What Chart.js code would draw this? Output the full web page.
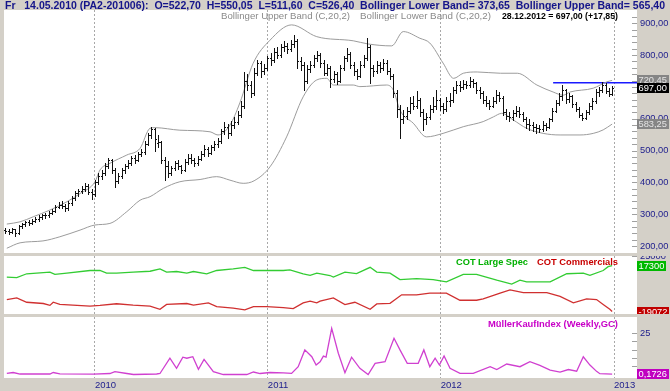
<!DOCTYPE html>
<html>
<head>
<meta charset="utf-8">
<script src="https://cdn.jsdelivr.net/npm/chart.js@4.4.0/dist/chart.umd.min.js"></script>
<style>
  html, body { margin: 0; padding: 0; }
  body { width: 670px; height: 391px; background: #d4d0c8; position: relative; overflow: hidden; }
  canvas { position: absolute; left: 0; }
  .txt { position: absolute; white-space: pre; transform-origin: left top; line-height: 1; z-index: 2; font-family: Arial, 'Liberation Sans', sans-serif; }
</style>
</head>
<body>
<canvas id="priceChart" width="670" height="243" style="top:10px"></canvas>
<canvas id="cotChart" width="670" height="58" style="top:256px"></canvas>
<canvas id="kaufChart" width="670" height="74" style="top:317px"></canvas>
<script>
// Palladium weekly bars (PA), Friday closes from 26.06.2009 to 28.12.2012
const opens = [
  250, 248, 244, 252, 240, 262, 268, 275, 272, 280,
  286, 290, 298, 296, 305, 310, 322, 330, 326, 318,
  334, 350, 366, 372, 380, 390, 370, 362, 400, 420,
  430, 452, 470, 440, 405, 420, 438, 450, 462, 478,
  470, 488, 495, 522, 548, 568, 522.7, 526, 470, 450,
  430, 445, 460, 450, 440, 465, 478, 470, 462, 475,
  490, 505, 492, 510, 520, 530, 560, 575, 555, 580,
  590, 612, 640, 720, 705, 680, 745, 775, 750, 760,
  790, 785, 810, 800, 825, 830, 820, 835, 845, 780,
  770, 720, 755, 770, 790, 800, 775, 745, 760, 725,
  740, 720, 760, 790, 805, 770, 750, 735, 770, 790,
  825, 760, 750, 770, 760, 775, 750, 735, 680, 630,
  600, 610, 625, 650, 640, 660, 620, 600, 605, 630,
  640, 660, 640, 630, 655, 660, 690, 705, 700, 710,
  705, 720, 712, 690, 680, 660, 650, 640, 655, 675,
  665, 620, 610, 605, 618, 625, 615, 600, 585, 580,
  575, 570, 568, 580, 575, 598, 625, 650, 672, 690,
  662, 670, 645, 632, 612, 602, 620, 640, 655, 684,
  690, 705, 688, 679.15
];
const highs = [
  256, 252, 258, 254, 266, 272, 280, 282, 286, 292,
  296, 302, 304, 310, 316, 328, 338, 340, 332, 340,
  356, 372, 380, 390, 398, 394, 380, 406, 428, 440,
  460, 476, 474, 446, 428, 445, 458, 470, 484, 486,
  494, 504, 530, 556, 574, 570, 550.05, 530, 480, 466,
  452, 468, 470, 456, 472, 490, 488, 478, 484, 500,
  516, 512, 518, 530, 540, 568, 590, 582, 592, 604,
  625, 655, 748, 740, 718, 760, 785, 782, 772, 798,
  806, 822, 825, 836, 845, 838, 848, 863, 850, 795,
  778, 768, 782, 800, 812, 806, 784, 772, 766, 750,
  748, 768, 798, 822, 810, 778, 756, 780, 800, 853,
  832, 768, 782, 778, 788, 785, 758, 740, 690, 642,
  628, 638, 668, 672, 686, 664, 630, 618, 642, 668,
  690, 666, 648, 668, 680, 700, 720, 718, 722, 718,
  731, 726, 716, 700, 688, 672, 658, 668, 690, 684,
  670, 632, 622, 628, 640, 636, 622, 606, 598, 590,
  585, 580, 592, 588, 602, 635, 660, 680, 706, 694,
  680, 674, 652, 638, 618, 628, 648, 666, 692, 700,
  716, 712, 696, 702
];
const lows = [
  240, 238, 242, 232, 238, 258, 264, 266, 270, 276,
  280, 286, 288, 292, 300, 306, 318, 318, 310, 314,
  330, 346, 356, 366, 372, 362, 348, 358, 396, 412,
  424, 446, 430, 385, 398, 414, 430, 444, 456, 462,
  466, 482, 490, 516, 540, 500, 511.6, 462, 408, 418,
  424, 438, 442, 428, 436, 458, 462, 450, 456, 470,
  484, 484, 488, 502, 512, 524, 552, 540, 550, 570,
  585, 605, 635, 690, 668, 676, 738, 730, 740, 754,
  770, 778, 790, 795, 812, 806, 814, 826, 760, 752,
  690, 712, 748, 762, 780, 764, 736, 738, 700, 716,
  708, 716, 752, 782, 760, 738, 726, 730, 764, 784,
  712, 735, 745, 748, 754, 740, 725, 668, 604, 540,
  588, 600, 618, 630, 634, 610, 565, 584, 598, 622,
  632, 626, 618, 624, 640, 652, 682, 688, 692, 696,
  700, 700, 682, 666, 650, 640, 630, 636, 648, 656,
  612, 598, 592, 596, 610, 604, 592, 570, 566, 562,
  555, 558, 562, 566, 570, 594, 620, 644, 660, 650,
  652, 636, 624, 604, 596, 598, 614, 632, 650, 670,
  684, 680, 672, 675
];
const closes = [
  248, 244, 252, 240, 262, 268, 275, 272, 280, 286,
  290, 298, 296, 305, 310, 322, 330, 326, 318, 334,
  350, 366, 372, 380, 390, 370, 362, 400, 420, 430,
  452, 470, 440, 405, 420, 438, 450, 462, 478, 470,
  488, 495, 522, 548, 568, 535, 526.4, 470, 450, 430,
  445, 460, 450, 440, 465, 478, 470, 462, 475, 490,
  505, 492, 510, 520, 530, 560, 575, 555, 580, 590,
  612, 640, 720, 705, 680, 745, 775, 750, 760, 790,
  785, 810, 800, 825, 830, 820, 835, 845, 780, 770,
  720, 755, 770, 790, 800, 775, 745, 760, 725, 740,
  720, 760, 790, 805, 770, 750, 735, 770, 790, 825,
  760, 750, 770, 760, 775, 750, 735, 680, 630, 600,
  610, 625, 650, 640, 660, 620, 600, 605, 630, 640,
  660, 640, 630, 655, 660, 690, 705, 700, 710, 705,
  720, 712, 690, 680, 660, 650, 640, 655, 675, 665,
  620, 610, 605, 618, 625, 615, 600, 585, 580, 575,
  570, 568, 580, 575, 598, 625, 650, 672, 690, 662,
  670, 645, 632, 612, 602, 620, 640, 655, 684, 690,
  705, 688, 679.15, 697
];

const upperWeeks = [0.4, 4.4, 8.4, 13.4, 18.5, 22.5, 27, 28.5, 31.5, 36.6, 40.6, 43.6, 45.1, 52.6, 61.7, 64.1, 67.7, 70.7, 74.7, 79.8,
  86.3, 93.9, 104.9, 109.4, 116.5, 120, 125, 128, 132, 135.2, 138.1, 142.3, 149.3, 154.4, 160.3, 165.2, 168.2, 170.3, 177.3, 181.4, 183];
const upperBand = [269, 276, 292, 313, 339, 365, 402, 439, 460, 486, 507, 570, 572, 564, 559, 549, 580, 650, 774, 847,
  895, 858, 845, 835, 829, 874, 853, 838, 775, 727, 743, 747, 743, 743, 706, 684, 674, 684, 696, 716, 720.45];
const lowerWeeks = [0.4, 4.4, 11.3, 16.4, 22.5, 27, 31.5, 36.6, 40.6, 43.6, 47.6, 52.6, 58.7, 63.7, 67.7, 71.7, 75, 79.8, 84.8, 89.8,
  93.9, 96.9, 98.9, 104.9, 106.9, 115, 117, 119, 123, 127, 132, 138.1, 144.1, 147.2, 149.7, 153.2, 157.2, 162.2, 167.3, 173.3, 177.3, 180.3, 183];
const lowerBand = [193, 210, 216, 229, 250, 266, 271, 308, 344, 355, 381, 402, 409, 418, 407, 397, 405, 449, 543, 669,
  722, 727, 706, 706, 701, 706, 690, 627, 586, 543, 554, 575, 591, 606, 617, 596, 570, 554, 549, 549, 554, 565, 583.25];

// horizontal resistance line
const resistanceStart = 165.2;
const resistanceLevel = 713;

// COT positions
const largeSpecWeeks = [0.4, 3.4, 6.4, 13.4, 14.9, 18.5, 25.5, 28.5, 30.5, 33.5, 38.5, 43.6, 46.6, 48.6, 51.6, 54.7, 56.7, 60.7, 63.7, 68.7,
  72.2, 74.8, 78.8, 83.8, 85.8, 89.8, 91.9, 93.9, 97.9, 98.9, 102.4, 105.9, 110, 112, 116, 119, 124, 129, 133, 138.1,
  142.1, 148.2, 152.7, 155.2, 157.2, 164.3, 169.3, 174.3, 176.3, 180.3, 181.8, 183];
const largeSpec = [8300, 7800, 10900, 12200, 10400, 11400, 13500, 13500, 11400, 11400, 12200, 12900, 14700, 12200, 12700, 11400, 12700, 10900, 13500, 14700,
  16000, 13500, 13500, 13500, 14000, 10900, 9600, 11400, 9500, 8300, 12200, 11000, 16000, 12200, 11400, 6300, 7100, 6300, 4500, 10400,
  10400, 5800, 2700, 5800, 4500, 4500, 10900, 11400, 9600, 13500, 16500, 17300];
const commWeeks = [0.4, 3.4, 6.4, 11.4, 13.4, 14.4, 16.4, 25.5, 28.5, 33.5, 38.5, 43.6, 46.6, 48.6, 54.7, 56.7, 61.2, 63.7, 68.7, 72.2,
  74.8, 78.8, 83.8, 86.8, 89.8, 91.9, 93.9, 94.9, 98.9, 102.4, 105.4, 110, 112, 116, 119.5, 124, 128, 133, 137.1, 142.1,
  144.1, 149.2, 152.2, 156.2, 163.3, 167.3, 171.3, 175.3, 178.3, 180.3, 182.3, 183];
const commercials = [-9600, -8300, -11700, -12700, -14200, -11700, -13400, -14800, -14200, -12900, -14000, -14800, -17300, -13400, -12700, -14000, -12200, -15200, -16300, -17800,
  -15200, -15200, -16000, -16700, -12200, -10900, -12200, -10900, -8300, -13500, -11700, -17300, -13000, -12600, -5800, -5800, -4500, -4500, -10100, -10100,
  -9000, -4500, -1900, -4000, -4000, -7100, -12200, -9100, -9600, -13500, -17300, -19072];

// MüllerKaufIndex (Weekly,GC)
const kaufWeeks = [0.4, 2.3, 4.4, 13.4, 14.4, 16.4, 26.5, 31.5, 33, 36.6, 38.6, 45.6, 46.6, 49.6, 51.6, 53.5, 54.7, 56.5, 58.2, 59.9,
  62.7, 65.7, 72.8, 74.8, 76.8, 79.8, 83.8, 86.3, 88.3, 90.3, 92.4, 93.7, 94.9, 95.9, 96.7, 98.4, 100.4, 102.4, 104.4, 106.9,
  109.4, 111.5, 114.5, 117.2, 119, 121.2, 124.5, 126.2, 128, 129.6, 130.9, 132.3, 134.1, 137.1, 141.1, 146.2, 148.2, 151.2, 155.2, 158.2,
  161.2, 164.3, 167.3, 169.8, 172.3, 174.3, 176.3, 178.3, 179.3, 183];
const kaufIndex = [0.7, 1.2, 0.3, 0.3, 1.2, 0.4, 0.2, 0.6, 1.7, 0.6, 0, 0.3, 0.6, 9.8, 3.7, 10.4, 9.8, 10.7, 3.1, 9.1,
  1.7, 0, 0, 1.5, 0.6, 1.2, 1.0, 0.7, 4.7, 14.8, 10.7, 5.7, 7.7, 11.1, 10.5, 27.8, 12.8, 1.1, 10.4, 3.7,
  0, 6.7, 7.7, 21.8, 14.8, 6.7, 6.7, 14.8, 4.7, 9.8, 5.7, 11.1, 3.7, 0.7, 0.7, 4.7, 3, 6.3, 4.7, 7.7,
  5.5, 2.7, 1.5, 3, 2, 10.7, 5.7, 1.9, 0.5, 0.1726];

const yearLabels = ['2010', '2011', '2012', '2013'];

const headerText = 'Fr   14.05.2010 (PA2-201006):  O=522,70  H=550,05  L=511,60  C=526,40  Bollinger Lower Band= 373,65  Bollinger Upper Band= 565,40';
const upperLegend = 'Bollinger Upper Band (C,20,2)';
const lowerLegend = 'Bollinger Lower Band (C,20,2)';
const lastBarText = '28.12.2012 = 697,00 (+17,85)';
const largeSpecLabel = 'COT Large Spec';
const commLabel = 'COT Commercials';
const kaufLabel = 'MüllerKaufIndex (Weekly,GC)';

const FONT = "Arial, 'Liberation Sans', sans-serif";
const NAVY = '#1c1c8c';

// week index 0 = Friday 26.06.2009
const firstWeek = Date.UTC(2009, 5, 26);
const weekMs = 7 * 24 * 3600 * 1000;
const yearWeeks = yearLabels.map(y => (Date.UTC(+y, 0, 1) - firstWeek) / weekMs);
const xMin = -0.45, xMax = 190.5;

const comma = (v, d) => v.toFixed(d).replace('.', ',');
const pts = (xs, ys) => xs.map((x, i) => ({ x: x, y: ys[i] }));

// plugins
const panelBackground = {
    id: 'panelBackground',
    beforeDraw(chart) {
        const { ctx, chartArea: a } = chart;
        ctx.save();
        ctx.fillStyle = '#ffffff';
        ctx.fillRect(a.left, a.top, a.right - a.left, a.bottom - a.top);
        ctx.restore();
    }
};

const axisTicks = {
    id: 'axisTicks',
    afterDraw(chart, args, opts) {
        const s = chart.scales.y, { ctx, chartArea: a } = chart;
        ctx.save();
        ctx.fillStyle = '#a0a0a0';
        s.ticks.forEach(t => {
            const r = t.value / opts.step;
            if (Math.abs(r - Math.round(r)) > 1e-6) return;
            const y = Math.round(s.getPixelForValue(t.value));
            if (y < a.top || y >= a.bottom) return;
            ctx.fillRect(a.right - 5, y, 5, 1);
        });
        ctx.restore();
    }
};

const ohlcBars = {
    id: 'ohlcBars',
    afterDatasetsDraw(chart) {
        const meta = chart.getDatasetMeta(0), s = chart.scales.y, { ctx, chartArea: a } = chart;
        const py = v => Math.round(s.getPixelForValue(v));
        ctx.save();
        ctx.beginPath();
        ctx.rect(a.left, a.top, a.right - a.left, a.bottom - a.top);
        ctx.clip();
        ctx.fillStyle = '#111111';
        meta.data.forEach((bar, i) => {
            const x = Math.round(bar.x);
            const yh = py(highs[i]), yl = py(lows[i]);
            ctx.fillRect(x, yh, 1, yl - yh + 1);
            ctx.fillRect(x - 1, py(opens[i]), 1, 1);
            ctx.fillRect(x + 1, py(closes[i]), 1, 1);
        });
        ctx.restore();
    }
};

const valueBoxes = {
    id: 'valueBoxes',
    afterDraw(chart, args, opts) {
        const s = chart.scales.y, { ctx, chartArea: a } = chart;
        ctx.save();
        ctx.font = '9.3px ' + FONT;
        ctx.textBaseline = 'middle';
        opts.boxes.forEach(b => {
            const y = Math.round(s.getPixelForValue(b.value));
            const w = Math.ceil(ctx.measureText(b.text).width) + 3;
            ctx.fillStyle = b.fill;
            ctx.fillRect(a.right, y - 5, w, 10);
            ctx.fillStyle = b.color;
            ctx.fillText(b.text, a.right + 1.5, y + 0.5);
        });
        ctx.restore();
    }
};

function xScale(showLabels) {
    return {
        type: 'linear',
        min: xMin,
        max: xMax,
        offset: false,
        afterBuildTicks: s => { s.ticks = yearWeeks.map(v => ({ value: v })); },
        afterFit: s => {
            s.height = showLabels ? 13 : 0;
            s.paddingLeft = 0;
            s.paddingRight = 0;
        },
        grid: { color: '#a8a8a8', drawTicks: false, offset: false },
        border: { display: false, dash: [2, 2] },
        ticks: {
            display: showLabels,
            autoSkip: false,
            maxRotation: 0,
            align: 'start',
            padding: 2,
            color: NAVY,
            font: { size: 9.5, family: FONT },
            callback: (v, i) => yearLabels[i]
        }
    };
}

function yScale(min, max, step, every, fmt, zeroLine) {
    return {
        position: 'right',
        min: min,
        max: max,
        afterFit: s => {
            s.width = 33;
            s.paddingTop = 0;
            s.paddingBottom = 0;
        },
        grid: {
            display: !!zeroLine,
            drawTicks: false,
            color: c => (c.tick && c.tick.value === 0) ? '#9a9a9a' : 'rgba(0,0,0,0)'
        },
        border: { display: false, dash: [2, 2] },
        ticks: {
            stepSize: step,
            autoSkip: false,
            padding: 3,
            color: NAVY,
            font: { size: 9.3, family: FONT },
            callback: v => {
                const r = v / every;
                return Math.abs(r - Math.round(r)) < 1e-6 ? fmt(v) : '';
            }
        }
    };
}

function baseOptions(extra) {
    return Object.assign({
        responsive: false,
        animation: false,
        events: [],
        layout: { padding: { left: 4, right: 0, top: 0, bottom: 0 } }
    }, extra);
}

// price panel
new Chart(document.getElementById('priceChart'), {
    type: 'line',
    data: {
        datasets: [
            {
                type: 'bar',
                data: closes.map((c, i) => ({ x: i, y: [lows[i], highs[i]] })),
                backgroundColor: 'rgba(0,0,0,0)',
                barThickness: 1
            },
            {
                data: pts(upperWeeks, upperBand),
                borderColor: '#9c9c9c', borderWidth: 1, pointRadius: 0,
                cubicInterpolationMode: 'monotone'
            },
            {
                data: pts(lowerWeeks, lowerBand),
                borderColor: '#9c9c9c', borderWidth: 1, pointRadius: 0,
                cubicInterpolationMode: 'monotone'
            },
            {
                data: [{ x: resistanceStart, y: resistanceLevel }, { x: xMax, y: resistanceLevel }],
                borderColor: '#1a1aff', borderWidth: 1.5, pointRadius: 0
            }
        ]
    },
    options: baseOptions({
        scales: {
            x: xScale(false),
            y: yScale(178, 941.8, 20, 100, v => comma(v, 2))
        },
        plugins: {
            legend: { display: false },
            tooltip: { enabled: false },
            axisTicks: { step: 20 },
            valueBoxes: {
                boxes: [
                    { value: upperBand[upperBand.length - 1], text: comma(upperBand[upperBand.length - 1], 2), fill: '#858585', color: '#e4e4e4' },
                    { value: closes[closes.length - 1], text: comma(closes[closes.length - 1], 2), fill: '#000000', color: '#ffffff' },
                    { value: lowerBand[lowerBand.length - 1], text: comma(lowerBand[lowerBand.length - 1], 2), fill: '#858585', color: '#e4e4e4' }
                ]
            }
        }
    }),
    plugins: [panelBackground, ohlcBars, axisTicks, valueBoxes]
});

// COT panel
new Chart(document.getElementById('cotChart'), {
    type: 'line',
    data: {
        datasets: [
            { data: pts(largeSpecWeeks, largeSpec), borderColor: '#33cc33', borderWidth: 1.3, pointRadius: 0 },
            { data: pts(commWeeks, commercials), borderColor: '#d03030', borderWidth: 1.3, pointRadius: 0 }
        ]
    },
    options: baseOptions({
        scales: {
            x: xScale(false),
            y: yScale(-21030, 25000, 5000, 25000, v => String(v), true)
        },
        plugins: {
            legend: { display: false },
            tooltip: { enabled: false },
            axisTicks: { step: 5000 },
            valueBoxes: {
                boxes: [
                    { value: largeSpec[largeSpec.length - 1], text: String(largeSpec[largeSpec.length - 1]), fill: '#00b800', color: '#ffffff' },
                    { value: commercials[commercials.length - 1], text: String(commercials[commercials.length - 1]), fill: '#c00000', color: '#ffffff' }
                ]
            }
        }
    }),
    plugins: [panelBackground, axisTicks, valueBoxes]
});

// MüllerKaufIndex panel
new Chart(document.getElementById('kaufChart'), {
    type: 'line',
    data: {
        datasets: [
            { data: pts(kaufWeeks, kaufIndex), borderColor: '#d040d0', borderWidth: 1.3, pointRadius: 0 }
        ]
    },
    options: baseOptions({
        scales: {
            x: xScale(true),
            y: yScale(-2.1, 34.6, 5, 25, v => String(v))
        },
        plugins: {
            legend: { display: false },
            tooltip: { enabled: false },
            axisTicks: { step: 5 },
            valueBoxes: {
                boxes: [
                    { value: kaufIndex[kaufIndex.length - 1], text: comma(kaufIndex[kaufIndex.length - 1], 4), fill: '#c000c0', color: '#ffffff' }
                ]
            }
        }
    }),
    plugins: [panelBackground, axisTicks, valueBoxes]
});

// text labels
function placeText(text, left, top, width, font, color) {
    const el = document.createElement('div');
    el.className = 'txt';
    el.textContent = text;
    el.style.left = left + 'px';
    el.style.top = top + 'px';
    el.style.font = font + ' ' + FONT;
    el.style.color = color;
    document.body.appendChild(el);
    const w = el.getBoundingClientRect().width;
    el.style.transform = 'scaleX(' + (width / w) + ')';
}

placeText(headerText, 5, 0, 660, 'bold 10px', '#14148a');
placeText(upperLegend, 221, 11, 129, '9px', '#8a8a8a');
placeText(lowerLegend, 360, 11, 131, '9px', '#8a8a8a');
placeText(lastBarText, 502, 11, 116, 'bold 9px', '#000000');
placeText(largeSpecLabel, 456, 256, 72, 'bold 9.5px', '#00b000');
placeText(commLabel, 537, 256, 81, 'bold 9.5px', '#c80000');
placeText(kaufLabel, 488, 318, 130, 'bold 9.5px', '#c800c8');
</script>
</body>
</html>
